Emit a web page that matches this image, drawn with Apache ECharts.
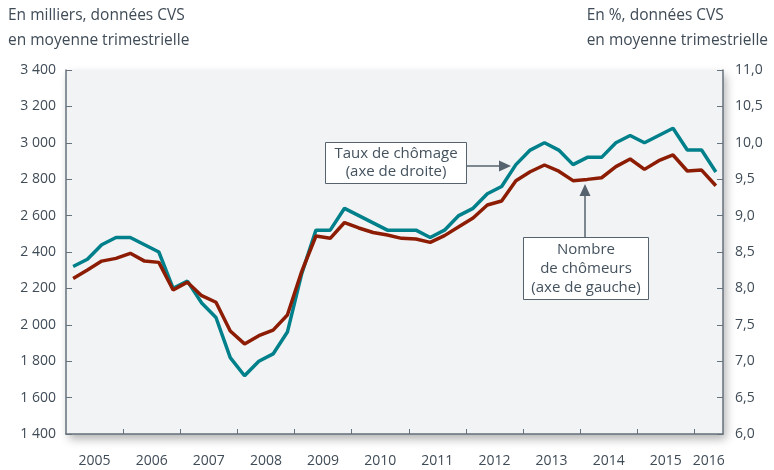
<!DOCTYPE html>
<html>
<head>
<meta charset="utf-8">
<script src="https://cdn.jsdelivr.net/npm/echarts@6/dist/echarts.min.js"></script>
<style>html,body{margin:0;padding:0;background:#fff}#c{width:774px;height:470px}</style>
</head>
<body>
<div id="c"></div>
<script>
// Years shown on the time axis (quarterly data, 2005 T1 to 2016 T2)
var years = [2005, 2006, 2007, 2008, 2009, 2010, 2011, 2012, 2013, 2014, 2015, 2016];
// Nombre de chômeurs (milliers, axe de gauche)
var chomeurs = [2255, 2301, 2350, 2365, 2393, 2350, 2343, 2191,
  2234, 2160, 2124, 1966, 1895, 1940, 1971, 2054,
  2292, 2488, 2475, 2562, 2532, 2507, 2493, 2475,
  2471, 2453, 2490, 2539, 2587, 2658, 2680, 2792,
  2841, 2878, 2844, 2792, 2799, 2808, 2869, 2911,
  2854, 2902, 2933, 2845, 2850, 2764];
// Taux de chômage (%, axe de droite)
var taux = [8.3, 8.4, 8.6, 8.7, 8.7, 8.6, 8.5, 8.0,
  8.1, 7.8, 7.6, 7.05, 6.8, 7.0, 7.1, 7.4,
  8.2, 8.8, 8.8, 9.1, 9.0, 8.9, 8.8, 8.8,
  8.8, 8.7, 8.8, 9.0, 9.1, 9.3, 9.4, 9.7,
  9.9, 10.0, 9.9, 9.7, 9.8, 9.8, 10.0, 10.1,
  10.0, 10.1, 10.2, 9.9, 9.9, 9.6];
// tick labels
var leftTicks = [1400, 1600, 1800, 2000, 2200, 2400, 2600, 2800, 3000, 3200, 3400];
var rightTicks = [6.0, 6.5, 7.0, 7.5, 8.0, 8.5, 9.0, 9.5, 10.0, 10.5, 11.0];

var nQ = chomeurs.length;
var redData = chomeurs.map(function (v, i) { return [i + 0.5, v]; });
var tealData = taux.map(function (v, i) { return [i + 0.5, v]; });
var tickVals = [], labelVals = [];
for (var k = 4; k < nQ; k += 4) tickVals.push(k);
for (var k2 = 2; k2 < nQ - 2; k2 += 4) labelVals.push(k2);
labelVals.push(nQ - 1);

var FONT = 'Open Sans';
var TXT = '#3f4b56';
var AX = '#66727c';

var chart = echarts.init(document.getElementById('c'), null, {renderer: 'canvas'});
chart.setOption({
  animation: false,
  textStyle: {fontFamily: FONT},
  grid: {
    left: 66, right: 51, top: 70, bottom: 36,
    show: true, backgroundColor: '#f2f3f5', borderWidth: 0,
    shadowColor: 'rgba(0,0,0,0.3)', shadowBlur: 9, shadowOffsetX: 3, shadowOffsetY: 5
  },
  xAxis: {
    type: 'value', min: 0, max: nQ,
    splitLine: {show: false},
    axisLine: {show: true, onZero: false, lineStyle: {color: AX, width: 1.5}},
    axisTick: {show: true, inside: true, length: 5, customValues: tickVals, lineStyle: {color: AX}},
    axisLabel: {
      customValues: labelVals, margin: 20, color: TXT, fontSize: 14, fontFamily: FONT,
      formatter: function (v) {
        if (Math.abs(v - (nQ - 1)) < 0.01) return String(years[years.length - 1]);
        return String(years[Math.round((v - 2) / 4)]);
      }
    }
  },
  yAxis: [{
    type: 'value', min: leftTicks[0], max: leftTicks[leftTicks.length - 1], interval: 200,
    splitLine: {show: false},
    axisLine: {show: true, lineStyle: {color: AX, width: 1.5}},
    axisTick: {show: true, inside: true, length: 6, lineStyle: {color: AX}},
    axisLabel: {
      margin: 10, color: TXT, fontSize: 14, fontFamily: FONT,
      formatter: function (v) { return String(v).replace(/\B(?=(\d{3})+(?!\d))/g, ' '); }
    }
  }, {
    type: 'value', position: 'right', min: rightTicks[0], max: rightTicks[rightTicks.length - 1], interval: 0.5,
    splitLine: {show: false},
    axisLine: {show: true, lineStyle: {color: AX, width: 1.5}},
    axisTick: {show: true, inside: true, length: 6, lineStyle: {color: AX}},
    axisLabel: {
      margin: 12, color: TXT, fontSize: 14, fontFamily: FONT,
      formatter: function (v) { return v.toFixed(1).replace('.', ','); }
    }
  }],
  series: [{
    name: 'Taux de chômage', type: 'line', yAxisIndex: 1, data: tealData,
    symbol: 'none', lineStyle: {color: '#00808a', width: 3.5}, z: 3
  }, {
    name: 'Nombre de chômeurs', type: 'line', yAxisIndex: 0, data: redData,
    symbol: 'none', lineStyle: {color: '#8c1d04', width: 3.5}, z: 4
  }],
  graphic: [
    {type: 'text', left: 8, top: 3, style: {text: 'En milliers, données CVS\nen moyenne trimestrielle', fill: TXT, font: '15.5px "Open Sans"', lineHeight: 25}},
    {type: 'text', right: 6, top: 3, style: {text: 'En %, données CVS\nen moyenne trimestrielle', fill: TXT, font: '15.5px "Open Sans"', lineHeight: 25, align: 'right'}},
    // Taux annotation
    {type: 'line', shape: {x1: 467, y1: 166, x2: 502, y2: 166}, style: {stroke: '#56636e', lineWidth: 1.5}, z: 10},
    {type: 'polygon', shape: {points: [[511, 166], [499, 160.5], [499, 171.5]]}, style: {fill: '#56636e'}, z: 10},
    {type: 'rect', shape: {x: 325.5, y: 142.5, width: 141, height: 41}, style: {fill: '#fff', stroke: '#56636e', lineWidth: 1}, z: 10},
    {type: 'text', x: 396, y: 163, style: {text: 'Taux de chômage\n(axe de droite)', fill: '#44525e', font: '15px "Open Sans"', lineHeight: 18, align: 'center', verticalAlign: 'middle'}, z: 11},
    // Nombre annotation
    {type: 'line', shape: {x1: 585, y1: 237, x2: 585, y2: 193}, style: {stroke: '#56636e', lineWidth: 1.5}, z: 10},
    {type: 'polygon', shape: {points: [[585, 184], [579.5, 196], [590.5, 196]]}, style: {fill: '#56636e'}, z: 10},
    {type: 'rect', shape: {x: 523.5, y: 237.5, width: 125, height: 62}, style: {fill: '#fff', stroke: '#56636e', lineWidth: 1}, z: 10},
    {type: 'text', x: 586, y: 269, style: {text: 'Nombre\nde chômeurs\n(axe de gauche)', fill: '#44525e', font: '15px "Open Sans"', lineHeight: 19, align: 'center', verticalAlign: 'middle'}, z: 11}
  ]
});
</script>
</body>
</html>
